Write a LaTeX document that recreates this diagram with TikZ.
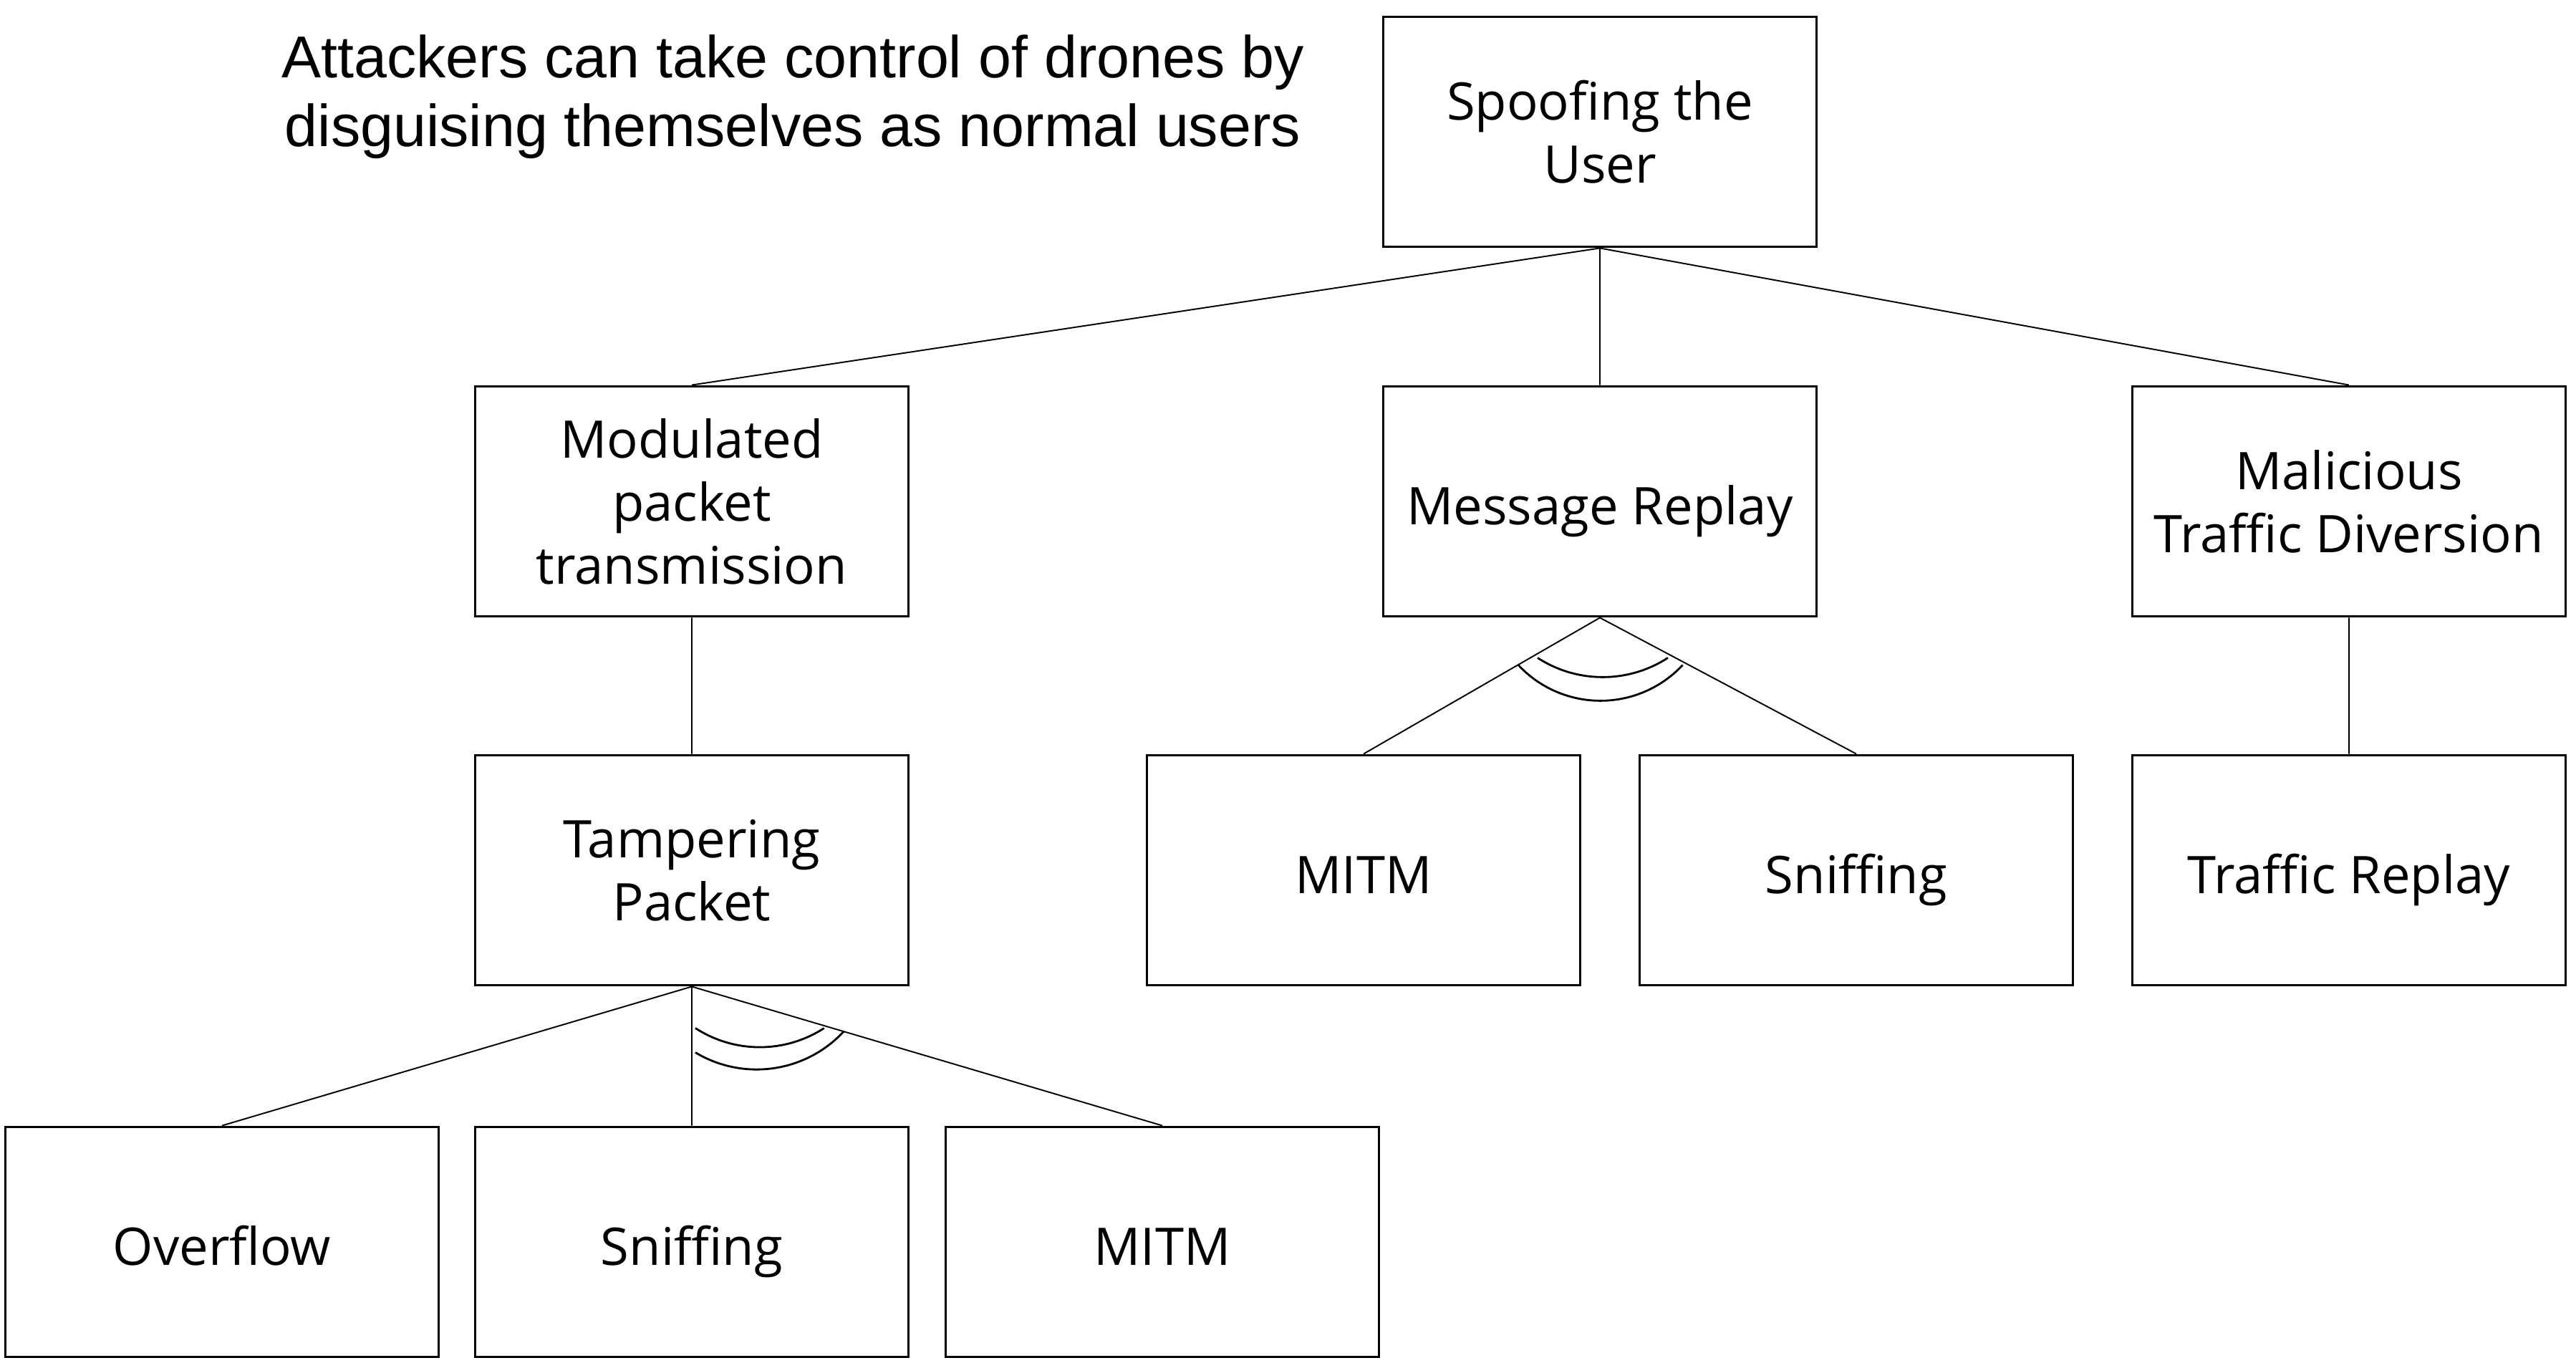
\documentclass[tikz,border=0pt]{standalone}
\usepackage{fontspec}
\setmainfont{Open Sans}
\newfontfamily\titlefont{Liberation Sans}
\usetikzlibrary{positioning}
\tikzset{node distance=2.5cm, % not really used, boxes are placed at coordinates
        goal/.style={ % attack tree boxes
            draw,
            line width=1.1pt,
            minimum width=6.05cm,
            minimum height=3.21cm,
            align=center,
            font=\fontsize{20.6}{25}\selectfont},
        oneline/.style={ % boxes with a single line of text
            goal,
            text height=0.8cm,
            text depth=0.16cm},
        link/.style={line width=0.55pt}, % tree edges
        andarc/.style={line width=0.8pt} % AND marks under a goal
        }

\begin{document}
\begin{tikzpicture}
    \useasboundingbox (0,0) rectangle (35.97,-19.02);

    \node[align=center, font=\titlefont\fontsize{23.5}{27.5}\selectfont] (title) at (11.07,-1.35)
        {Attackers can take control of drones by\\disguising themselves as normal users};

    \node[goal] (root) at (22.34,-1.84) {Spoofing the\\User};

    \node[goal]    (mod)  at (9.66,-7.00)  {Modulated\\packet\\transmission};
    \node[oneline] (rep)  at (22.34,-7.00) {Message Replay};
    \node[goal]    (div)  at (32.80,-7.00) {Malicious\\Traffic Diversion};

    \node[goal]    (tamp)   at (9.66,-12.15)  {Tampering\\Packet};
    \node[oneline] (mitmA)  at (19.04,-12.15) {MITM};
    \node[oneline] (sniffA) at (25.92,-12.15) {Sniffing};
    \node[oneline] (traf)   at (32.80,-12.15) {Traffic Replay};

    \node[oneline] (over)   at (3.10,-17.34)  {Overflow};
    \node[oneline] (sniffB) at (9.66,-17.34)  {Sniffing};
    \node[oneline] (mitmB)  at (16.23,-17.34) {MITM};

    \draw[link]
        (root.south) -- (mod.north)
        (root.south) -- (rep.north)
        (root.south) -- (div.north)
        (mod.south) -- (tamp.north)
        (rep.south) -- (mitmA.north)
        (rep.south) -- (sniffA.north)
        (div.south) -- (traf.north)
        (tamp.south) -- (over.north)
        (tamp.south) -- (sniffB.north)
        (tamp.south) -- (mitmB.north);

    % AND arcs
    \draw[andarc] ([shift={(-0.87,-0.56)}]rep.south) arc[start angle=237, end angle=303, radius=1.67];
    \draw[andarc] ([shift={(-1.14,-0.66)}]rep.south) arc[start angle=223, end angle=317, radius=1.57];
    \draw[andarc] ([shift={(0.05,-0.58)}]tamp.south) arc[start angle=237, end angle=303, radius=1.65];
    \draw[andarc] ([shift={(0.05,-0.92)}]tamp.south) arc[start angle=239, end angle=317, radius=1.66];
\end{tikzpicture}
\end{document}
